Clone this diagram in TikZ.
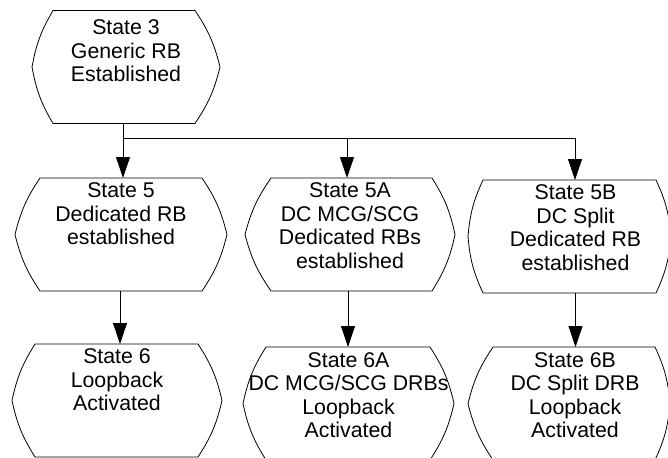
\documentclass[tikz,border=0pt]{standalone}
\usepackage{fontspec}
\setmainfont{Liberation Sans}
\usetikzlibrary{arrows.meta}
\newcommand\sttext[4]{\parbox[c][113pt][t]{#1}{\centering\leftskip=#2 plus 1fil\relax\rule{0pt}{#3}#4}}
\tikzset{
  stbox/.style={anchor=north, inner sep=0pt, outer sep=0pt, minimum height=113pt,
    font=\fontsize{21.3}{23.5}\selectfont},
  outl/.style={draw=black, line width=0.8pt, line join=round},
  conn/.style={draw=black, line width=0.8pt},
  arr/.style={conn, -{Triangle[length=21pt,width=14pt]}}
}
\newcommand\stoutline[3]{%
  \draw[outl] ([xshift=#2]#1.north west) -- ([xshift=-#3]#1.north east)
    to[bend left=10] (#1.east) to[bend left=10] ([xshift=-#3]#1.south east)
    -- ([xshift=#2]#1.south west) to[bend left=10] (#1.west)
    to[bend left=10] ([xshift=#2]#1.north west) -- cycle;}
\begin{document}
\begin{tikzpicture}[x=1pt,y=-1pt]
\path[use as bounding box] (0,0) rectangle (668,457);
\clip (0,0) rectangle (668,457);
% top state
\node[stbox] (s3) at (126,10.5) {\sttext{188pt}{0pt}{24.5pt}{State 3\\Generic RB\\Established}};
% middle row
\node[stbox] (s5) at (121,178) {\sttext{212pt}{0pt}{19.5pt}{State 5\\Dedicated RB\\established}};
\node[stbox] (s5a) at (350,178) {\sttext{210pt}{0pt}{19.5pt}{State 5A\\DC MCG/SCG\\Dedicated RBs\\established}};
\node[stbox] (s5b) at (569.5,180) {\sttext{203pt}{12pt}{19.5pt}{State 5B\\DC Split\\Dedicated RB\\established}};
% bottom row
\node[stbox] (s6) at (117,344) {\sttext{210pt}{0pt}{19.5pt}{State 6\\Loopback\\Activated}};
\node[stbox] (s6a) at (348.5,347) {\sttext{211pt}{0pt}{20pt}{State 6A\\DC MCG/SCG DRBs\\Loopback\\Activated}};
\node[stbox] (s6b) at (569,347) {\sttext{202pt}{12pt}{20pt}{State 6B\\DC Split DRB\\Loopback\\Activated}};
% outlines
\stoutline{s3}{21}{25}
\stoutline{s5}{25}{25}
\stoutline{s5a}{26}{23}
\stoutline{s5b}{15}{15}
\stoutline{s6}{23}{24}
\stoutline{s6a}{23}{24}
\stoutline{s6b}{25}{15}
% connectors
\coordinate (j) at (123,138);
\coordinate (ja) at (347,138);
\coordinate (jb) at (575,138);
\draw[conn] (s3.south -| j) -- (j);
\draw[conn] (j) -- (jb);
\draw[arr] (j) -- (j |- s5.north);
\draw[arr] (ja) -- (ja |- s5a.north);
\draw[arr] (jb) -- (jb |- s5b.north);
\draw[arr] ([xshift=-1]s5.south) -- ([xshift=-1]s5.south |- s6.north);
\draw[arr] ([xshift=-2]s5a.south) -- ([xshift=-2]s5a.south |- s6a.north);
\draw[arr] ([xshift=6]s5b.south) -- ([xshift=6]s5b.south |- s6b.north);
\end{tikzpicture}
\end{document}
